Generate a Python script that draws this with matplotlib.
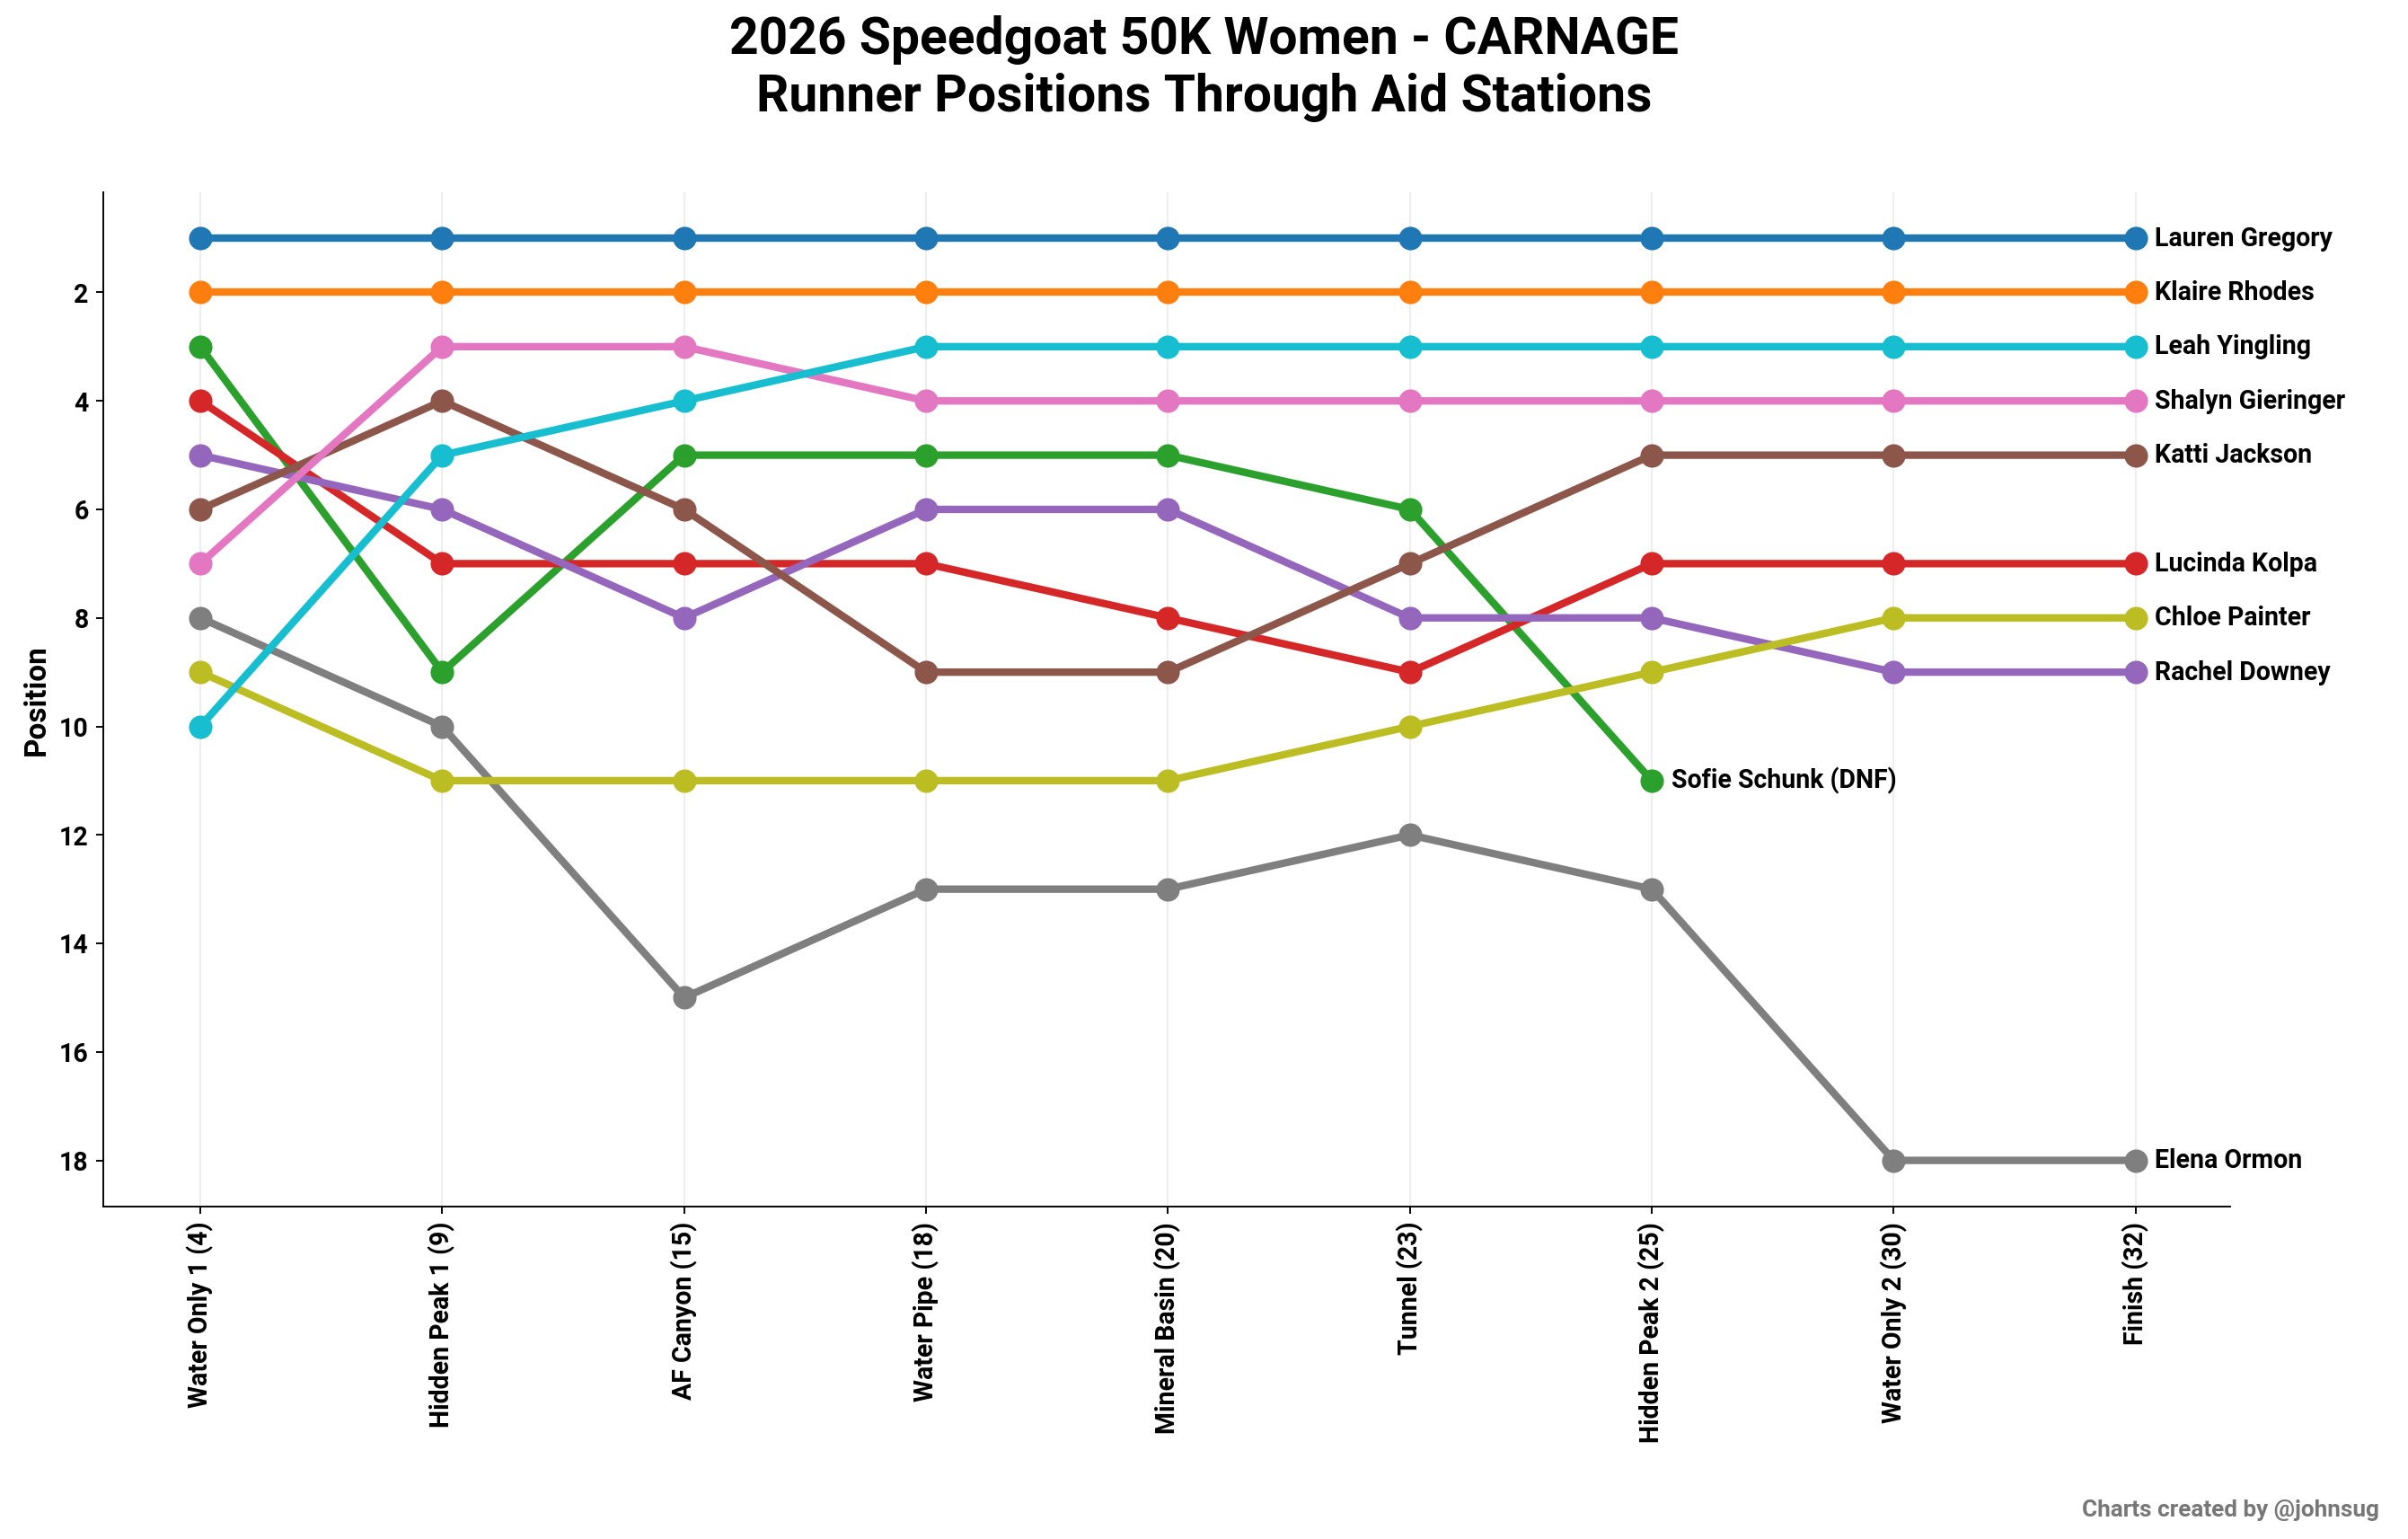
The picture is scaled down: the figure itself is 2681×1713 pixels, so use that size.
import matplotlib.pyplot as plt

plt.rcParams['font.family'] = ['Roboto', 'DejaVu Sans']
plt.rcParams['font.weight'] = 'bold'

stations = ['Water Only 1 (4)', 'Hidden Peak 1 (9)', 'AF Canyon (15)', 'Water Pipe (18)',
            'Mineral Basin (20)', 'Tunnel (23)', 'Hidden Peak 2 (25)', 'Water Only 2 (30)', 'Finish (32)']

lauren = [1, 1, 1, 1, 1, 1, 1, 1, 1]
klaire = [2, 2, 2, 2, 2, 2, 2, 2, 2]
sofie = [3, 9, 5, 5, 5, 6, 11]
lucinda = [4, 7, 7, 7, 8, 9, 7, 7, 7]
rachel = [5, 6, 8, 6, 6, 8, 8, 9, 9]
katti = [6, 4, 6, 9, 9, 7, 5, 5, 5]
shalyn = [7, 3, 3, 4, 4, 4, 4, 4, 4]
elena = [8, 10, 15, 13, 13, 12, 13, 18, 18]
chloe = [9, 11, 11, 11, 11, 10, 9, 8, 8]
leah = [10, 5, 4, 3, 3, 3, 3, 3, 3]

runners = [
    ('Lauren Gregory', lauren, '#1f77b4'),
    ('Klaire Rhodes', klaire, '#ff7f0e'),
    ('Sofie Schunk (DNF)', sofie, '#2ca02c'),
    ('Lucinda Kolpa', lucinda, '#d62728'),
    ('Rachel Downey', rachel, '#9467bd'),
    ('Katti Jackson', katti, '#8c564b'),
    ('Shalyn Gieringer', shalyn, '#e377c2'),
    ('Elena Ormon', elena, '#7f7f7f'),
    ('Chloe Painter', chloe, '#bcbd22'),
    ('Leah Yingling', leah, '#17becf'),
]

fig = plt.figure(figsize=(15.68, 10.02), dpi=171)
ax = fig.add_axes([0.043, 0.216, 0.883, 0.659])

for name, pos, col in runners:
    xs = list(range(len(pos)))
    ax.plot(xs, pos, color=col, lw=3.5, marker='o', ms=10, zorder=3)
    ax.text(xs[-1] + 0.08, pos[-1], name, va='center', ha='left', fontsize=12, fontweight='bold')

ax.set_xticks(range(len(stations)))
ax.set_xticklabels(stations, rotation=90, fontsize=12, fontweight='bold')
ax.set_yticks(range(2, 19, 2))
ax.tick_params(axis='y', labelsize=12)
ax.set_ylim(18.85, 0.15)
ax.set_xlim(-0.4, 8.39)
ax.set_ylabel('Position', fontsize=14, fontweight='bold')
ax.grid(axis='x', color='#eeeeee', lw=0.8)
ax.set_axisbelow(True)
for s in ['top', 'right']:
    ax.spines[s].set_visible(False)

fig.suptitle('2026 Speedgoat 50K Women - CARNAGE\nRunner Positions Through Aid Stations',
             fontsize=24, fontweight='bold', y=0.99)
fig.text(0.988, 0.012, 'Charts created by @johnsug', ha='right', va='bottom',
         fontsize=11, color='#777777', fontweight='bold')

fig.savefig('out.png', dpi=171)
